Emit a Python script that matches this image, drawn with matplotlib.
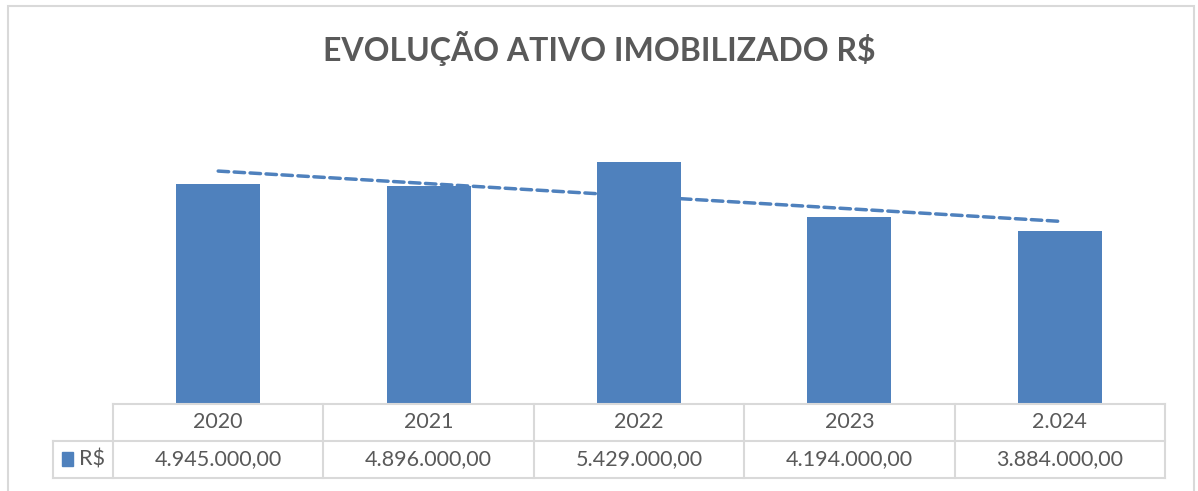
import numpy as np
import matplotlib.pyplot as plt
from matplotlib.patches import Rectangle

# data
years = ["2020", "2021", "2022", "2023", "2.024"]
values = [4945000, 4896000, 5429000, 4194000, 3884000]
value_labels = ["4.945.000,00", "4.896.000,00", "5.429.000,00", "4.194.000,00", "3.884.000,00"]
series_name = "R$"

BLUE = "#4F81BD"
GRID = "#D9D9D9"
TEXT = "#595959"
W, H = 1198, 491

plt.rcParams['font.family'] = ['Lato', 'DejaVu Sans']


def fx(px):
    return px / W


def fy(py):
    # py measured from the top of the picture
    return 1 - py / H


def build_chart():
    '''
    Bars, trend line and the data table underneath
    '''
    fig = plt.figure(figsize=(W / 100, H / 100), dpi=100)

    # chart area border (bottom edge falls outside the picture)
    fig.add_artist(Rectangle((fx(8), fy(500)), fx(1194) - fx(8), fy(6) - fy(500),
                             transform=fig.transFigure, fill=False, edgecolor=GRID, lw=1.5))

    fig.text(0.5, fy(48), "EVOLUÇÃO ATIVO IMOBILIZADO R$", ha='center', va='center',
             fontsize=23, fontweight='bold', color=TEXT)

    # plot area
    ax = fig.add_axes([fx(113), fy(404), fx(1165) - fx(113), fy(137) - fy(404)])
    x = np.arange(len(years))
    ax.bar(x, values, width=0.4, color=BLUE)
    slope, intercept = np.polyfit(x, values, 1)
    ax.plot(x[[0, -1]], slope * x[[0, -1]] + intercept, ls=(0, (3, 1.6)),
            color=BLUE, lw=2.5, dash_capstyle='round')
    ax.set_xlim(-0.5, len(years) - 0.5)
    ax.set_ylim(0, 6000000)
    ax.axis('off')

    # data table
    label_w = 60 / 210.4
    tab = fig.add_axes([fx(53), fy(478), fx(1165) - fx(53), fy(404) - fy(478)])
    tab.set_xlim(-0.5 - label_w, len(years) - 0.5)
    tab.set_ylim(0, 2)
    tab.axis('off')
    kw = dict(color=GRID, lw=1.5, clip_on=False)
    n = len(years)
    tab.plot([-0.5, n - 0.5], [2, 2], **kw)
    tab.plot([-0.5 - label_w, n - 0.5], [1, 1], **kw)
    tab.plot([-0.5 - label_w, n - 0.5], [0, 0], **kw)
    tab.plot([-0.5 - label_w, -0.5 - label_w], [0, 1], **kw)
    for i in range(n + 1):
        tab.plot([i - 0.5, i - 0.5], [0, 2], **kw)
    for i in range(n):
        tab.text(i, 1.5, years[i], ha='center', va='center', fontsize=15.5, color=TEXT)
        tab.text(i, 0.5, value_labels[i], ha='center', va='center', fontsize=15.5, color=TEXT)
    tab.add_patch(Rectangle((-0.5 - label_w + 0.045, 0.33), 0.05, 0.36, color=BLUE))
    tab.text(-0.5 - label_w + 0.125, 0.5, series_name, ha='left', va='center',
             fontsize=15.5, color=TEXT)

    fig.savefig("out.png", dpi=100)


if __name__ == '__main__':
    build_chart()
